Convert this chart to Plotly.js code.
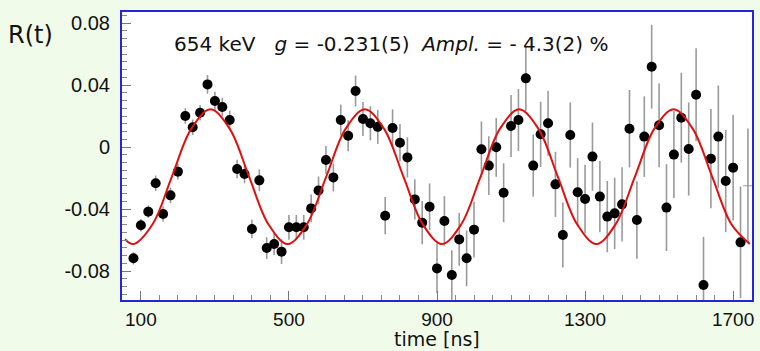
<!DOCTYPE html>
<html>
<head>
<meta charset="utf-8">
<script src="https://cdn.plot.ly/plotly-3.0.1.min.js"></script>
<style>
html,body{margin:0;padding:0;background:#f0fbe9;}
#chart{width:760px;height:351px;}
</style>
</head>
<body>
<div id="chart"></div>
<script>
// Measured points (time in ns, R(t), uncertainty)
const timeNs = [80,100,120,140,160,180,200,220,240,260,280,300,320,340,360,380,400,420,440,460,480,500,520,540,560,580,600,620,640,660,680,700,720,740,760,780,800,820,840,860,880,900,920,940,960,980,1000,1020,1040,1060,1080,1100,1120,1140,1160,1180,1200,1220,1240,1260,1280,1300,1320,1340,1360,1380,1400,1420,1440,1460,1480,1500,1520,1540,1560,1580,1600,1620,1640,1660,1680,1700,1720];
const ratio = [-0.0718,-0.0505,-0.0417,-0.0234,-0.0432,-0.0312,-0.0159,0.0200,0.0127,0.0221,0.0404,0.0297,0.0258,0.0174,-0.0142,-0.0174,-0.0529,-0.0215,-0.0652,-0.0626,-0.0675,-0.0518,-0.0518,-0.0518,-0.0396,-0.0280,-0.0084,-0.0196,0.0174,0.0073,0.0361,0.0181,0.0153,0.0130,-0.0443,0.0123,0.0028,-0.0067,-0.0338,-0.0488,-0.0385,-0.0783,-0.0477,-0.0826,-0.0596,-0.0718,-0.0533,-0.0015,-0.0120,-0.0002,-0.0295,0.0135,0.0174,0.0443,-0.0120,0.0082,0.0153,-0.0241,-0.0568,0.0077,-0.0292,-0.0335,-0.0062,-0.0320,-0.0449,-0.0428,-0.0370,0.0118,-0.0471,0.0067,0.0518,0.0140,-0.0391,-0.0049,0.0189,-0.0013,0.0337,-0.0890,-0.0075,0.0067,-0.0219,-0.0133,-0.0615];
const ratioErr = [0.004,0.004,0.004,0.005,0.005,0.005,0.005,0.005,0.005,0.005,0.006,0.006,0.006,0.006,0.006,0.006,0.006,0.007,0.007,0.007,0.008,0.008,0.008,0.008,0.009,0.009,0.009,0.009,0.010,0.010,0.010,0.011,0.011,0.011,0.012,0.012,0.012,0.013,0.013,0.014,0.015,0.016,0.016,0.016,0.017,0.018,0.018,0.018,0.019,0.019,0.019,0.020,0.020,0.021,0.020,0.021,0.021,0.021,0.021,0.021,0.022,0.022,0.022,0.023,0.023,0.023,0.024,0.025,0.025,0.026,0.027,0.027,0.028,0.028,0.029,0.030,0.030,0.031,0.032,0.033,0.033,0.034,0.036];
// last bin (marker not visible, only bar)
const lastTime = [1740];
const lastRatio = [-0.025];
const lastErr = [0.037];

// Fitted curve
const fitTime = [57,79.5,131.6,183.8,235.9,288.0,340.1,392.3,444.4,496.5,548.6,600.8,652.9,705.0,757.1,809.3,861.4,913.5,965.6,1017.8,1069.9,1122.0,1174.1,1226.3,1278.4,1330.5,1382.6,1434.8,1486.9,1539.0,1591.1,1643.3,1695.4,1745];
const fitRatio = [-0.0595,-0.0626,-0.0498,-0.0191,0.0117,0.0243,0.0117,-0.0191,-0.0498,-0.0626,-0.0498,-0.0191,0.0117,0.0243,0.0117,-0.0191,-0.0498,-0.0626,-0.0498,-0.0191,0.0117,0.0243,0.0117,-0.0191,-0.0498,-0.0626,-0.0498,-0.0191,0.0117,0.0243,0.0117,-0.0191,-0.0498,-0.0625];

const xTickVals = [100,500,900,1300,1700];
const xTickText = ['100','500','900','1300','1700'];
const yTickVals = [0.08,0.04,0,-0.04,-0.08];
const yTickText = ['0.08','0.04','0','-0.04','-0.08'];

const blue = '#2424dc';
const traces = [
  {
    x: timeNs, y: ratio, type: 'scatter', mode: 'markers',
    marker: {color: '#000', size: 10},
    error_y: {type: 'data', array: ratioErr, visible: true, color: '#9a9a9a', thickness: 1.6, width: 0},
    hoverinfo: 'skip'
  },
  {
    x: lastTime, y: lastRatio, type: 'scatter', mode: 'markers',
    marker: {color: '#9a9a9a', size: 7, symbol: 'line-ew-open', line: {width: 1, color: '#9a9a9a'}},
    error_y: {type: 'data', array: lastErr, visible: true, color: '#9a9a9a', thickness: 1.6, width: 0},
    hoverinfo: 'skip'
  },
  {
    x: fitTime, y: fitRatio, type: 'scatter', mode: 'lines',
    line: {color: '#e01010', width: 2, shape: 'spline', smoothing: 1},
    hoverinfo: 'skip'
  }
];

const layout = {
  width: 760, height: 351,
  margin: {l: 122, r: 8, t: 12, b: 51},
  paper_bgcolor: '#f0fbe9',
  plot_bgcolor: '#ffffff',
  showlegend: false,
  font: {family: 'Liberation Sans, Arial, sans-serif', color: '#111'},
  xaxis: {
    range: [49, 1751],
    tickvals: xTickVals, ticktext: xTickText,
    ticks: 'inside', ticklen: 9, tickcolor: '#777', tickwidth: 1,
    minor: {dtick: 50, tick0: 0, ticks: 'inside', ticklen: 5, tickcolor: '#888'},
    showgrid: false, zeroline: false,
    showline: true, linecolor: blue, linewidth: 2, mirror: true,
    tickfont: {size: 19, family: 'Liberation Sans, Arial, sans-serif'},
    ticklabelstandoff: 1
  },
  yaxis: {
    range: [-0.0987, 0.0871],
    tickvals: yTickVals, ticktext: yTickText,
    ticks: 'inside', ticklen: 9, tickcolor: '#777', tickwidth: 1,
    minor: {dtick: 0.005, tick0: 0, ticks: 'inside', ticklen: 5, tickcolor: '#888'},
    showgrid: false, zeroline: false,
    showline: true, linecolor: blue, linewidth: 2, mirror: true,
    tickfont: {size: 20, family: 'Liberation Sans, Arial, sans-serif'},
    ticklabelstandoff: 6
  },
  annotations: [
    {text: 'R(t)', xref: 'paper', yref: 'paper', x: -0.184, y: 0.92, xanchor: 'left', yanchor: 'middle',
     showarrow: false, font: {size: 24, family: 'DejaVu Sans, sans-serif', color: '#111'}},
    {text: '654 keV   <i>g</i> = -0.231(5)  <i>Ampl.</i> = - 4.3(2) %', xref: 'paper', yref: 'paper',
     x: 0.079, y: 0.89, xanchor: 'left', yanchor: 'middle', showarrow: false,
     font: {size: 20, family: 'DejaVu Sans, sans-serif', color: '#111'}},
    {text: 'time [ns]', xref: 'paper', yref: 'paper', x: 0.5, y: -0.135, xanchor: 'center', yanchor: 'middle',
     showarrow: false, font: {size: 19, family: 'DejaVu Sans, sans-serif', color: '#111'}}
  ]
};

Plotly.newPlot('chart', traces, layout, {staticPlot: true, displayModeBar: false});
</script>
</body>
</html>
